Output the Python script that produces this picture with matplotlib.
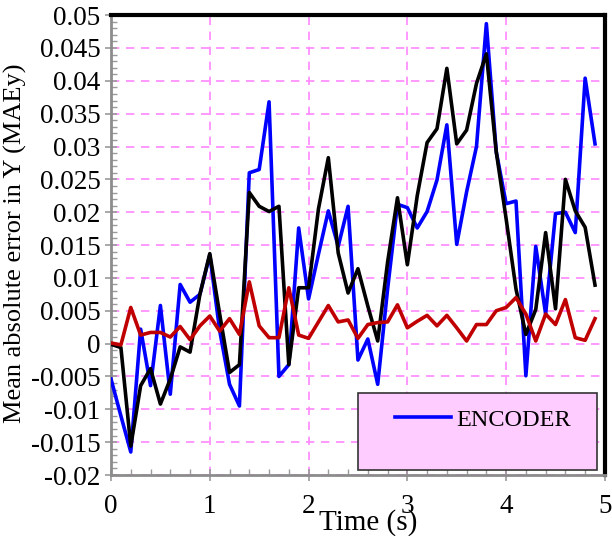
import numpy as np
import matplotlib
matplotlib.use('Agg')
import matplotlib.pyplot as plt
from matplotlib.patches import Rectangle
from matplotlib.ticker import MultipleLocator, FormatStrFormatter

plt.rcParams['font.family'] = ['Liberation Serif', 'DejaVu Serif']

# data (time in s, error in m)
time = [0.0, 0.1, 0.2, 0.3, 0.4, 0.5, 0.6, 0.7, 0.8, 0.9,
        1.0, 1.1, 1.2, 1.3, 1.4, 1.5, 1.6, 1.7, 1.8, 1.9,
        2.0, 2.1, 2.2, 2.3, 2.4, 2.5, 2.6, 2.7, 2.8, 2.9,
        3.0, 3.1, 3.2, 3.3, 3.4, 3.5, 3.6, 3.7, 3.8, 3.9,
        4.0, 4.1, 4.2, 4.3, 4.4, 4.5, 4.6, 4.7, 4.8, 4.9]

encoder = [-0.0054, -0.0110, -0.0165, 0.0022, -0.0064, 0.0058, -0.0077, 0.0090, 0.0063, 0.0075,
           0.0135, 0.0020, -0.0062, -0.0095, 0.0260, 0.0265, 0.0368, -0.0050, -0.0032, 0.0176,
           0.0068, 0.0136, 0.0202, 0.0148, 0.0209, -0.0025, 0.0007, -0.0062, 0.0083, 0.0212,
           0.0207, 0.0176, 0.0201, 0.0249, 0.0333, 0.0151, 0.0231, 0.0300, 0.0487, 0.0292,
           0.0213, 0.0217, -0.0049, 0.0148, 0.0045, 0.0198, 0.0200, 0.0169, 0.0404, 0.0304]

black_series = [-0.0001, -0.0006, -0.0156, -0.0064, -0.0038, -0.0092, -0.0054, -0.0005, -0.0013, 0.0075,
                0.0137, 0.0045, -0.0044, -0.0032, 0.0230, 0.0209, 0.0201, 0.0209, -0.0032, 0.0085,
                0.0085, 0.0205, 0.0283, 0.0138, 0.0077, 0.0114, 0.0057, 0.0004, 0.0124, 0.0222,
                0.0120, 0.0225, 0.0306, 0.0327, 0.0419, 0.0304, 0.0325, 0.0396, 0.0441, 0.0292,
                0.0190, 0.0083, 0.0014, 0.0052, 0.0169, 0.0053, 0.0250, 0.0202, 0.0177, 0.0089]

red_series = [0.0001, -0.0002, 0.0055, 0.0013, 0.0017, 0.0017, 0.0010, 0.0026, 0.0006, 0.0027,
              0.0042, 0.0019, 0.0038, 0.0014, 0.0094, 0.0027, 0.0009, 0.0009, 0.0085, 0.0013,
              0.0008, 0.0033, 0.0058, 0.0033, 0.0036, 0.0008, 0.0029, 0.0032, 0.0033, 0.0059,
              0.0024, 0.0034, 0.0043, 0.0027, 0.0043, 0.0024, 0.0004, 0.0029, 0.0029, 0.0050,
              0.0055, 0.0070, 0.0045, 0.0004, 0.0045, 0.0029, 0.0067, 0.0009, 0.0005, 0.0038]

fig = plt.figure(figsize=(6.12, 5.36), dpi=100)
ax = fig.add_axes([0.1814, 0.1138, 0.807, 0.858])

ax.plot(time, encoder, color='#0000FF', linewidth=2.6, label='ENCODER', zorder=3)
ax.plot(time, black_series, color='black', linewidth=2.6, zorder=4)
ax.plot(time, red_series, color='#C00000', linewidth=2.6, zorder=5)

ax.set_xlim(0, 5)
ax.set_ylim(-0.02, 0.05)
ax.xaxis.set_major_locator(MultipleLocator(1))
ax.xaxis.set_minor_locator(MultipleLocator(0.2))
ax.yaxis.set_major_locator(MultipleLocator(0.005))
ax.yaxis.set_minor_locator(MultipleLocator(0.001))
ax.xaxis.set_major_formatter(FormatStrFormatter('%g'))
ax.yaxis.set_major_formatter(FormatStrFormatter('%g'))

ax.grid(True, which='major', color='#FF88FF', linestyle=(0, (5, 4)), linewidth=1.2, zorder=0)
ax.set_axisbelow(True)

for side in ('top', 'right'):
    ax.spines[side].set_color('black')
    ax.spines[side].set_linewidth(3)
for side in ('left', 'bottom'):
    ax.spines[side].set_color('#8c8c8c')
    ax.spines[side].set_linewidth(2)

ax.tick_params(which='major', direction='inout', length=9, width=1.2, color='#9a9a9a',
               labelsize=19.5, pad=3)
ax.tick_params(which='minor', direction='in', length=4, width=1, color='#9a9a9a')
ax.tick_params(axis='x', pad=9)

ax.set_xlabel('Time (s)', fontsize=21)
ax.xaxis.set_label_coords(0.52, -0.075)
ax.set_ylabel('Mean absolute error in Y (MAEy)', fontsize=19)
ax.yaxis.set_label_coords(-0.17, 0.505)

# legend box
ax.add_patch(Rectangle((0.5, 0.011), 0.484, 0.167, transform=ax.transAxes,
                       facecolor='#FFCCFF', edgecolor='#333333', linewidth=1.2, zorder=6))
leg = ax.legend(loc='center left', bbox_to_anchor=(0.54, 0.12), frameon=False,
                fontsize=17.5, handlelength=2.3, handletextpad=0.25, borderpad=0.2)
leg.set_zorder(7)

fig.savefig('out.png', dpi=100)
